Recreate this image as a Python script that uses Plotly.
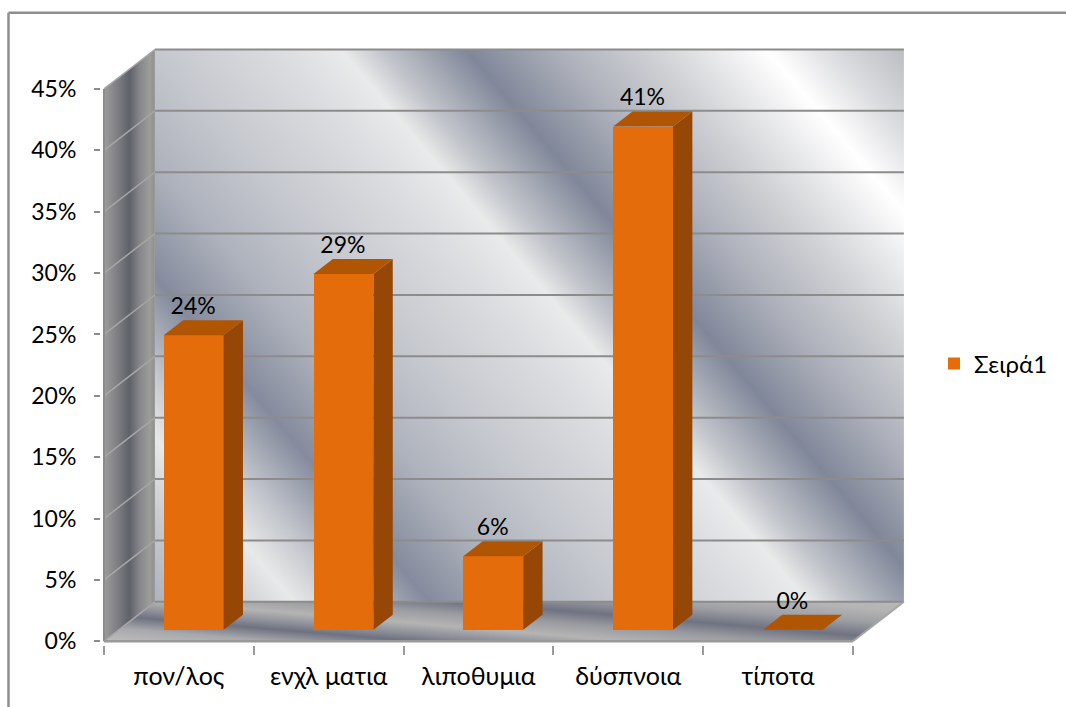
import base64
import plotly.graph_objects as go

# Chart content
categories = ["πον/λος", "ενχλ ματια", "λιποθυμια", "δύσπνοια", "τίποτα"]
values = [24, 29, 6, 41, 0]
percent_ticks = [0, 5, 10, 15, 20, 25, 30, 35, 40, 45]
series_name = "Σειρά1"

# Oblique projection of the 3-D box, expressed in axis units
DEPTH_X = 0.34      # category units across the full depth
DEPTH_Y = 3.217     # percent units across the full depth
BAR_NEAR = 0.29     # depth fraction of the bar's front face
BAR_FAR = 0.67      # depth fraction of the bar's back face
BAR_WIDTH = 0.40
X_RANGE = [-0.52, 4.854]
Y_RANGE = [-0.30, 48.50]
M = dict(l=101, r=160, t=46, b=62)
W, H = 1066, 707
PLOT_W, PLOT_H = W - M["l"] - M["r"], H - M["t"] - M["b"]
FONT = "Lato, 'Open Sans', sans-serif"

FRONT = "#E46C0A"
SIDE = "#964705"
TOP = "#B05504"
LINE = "#8C8C8C"


def px_x(c):
    return M["l"] + (c - X_RANGE[0]) / (X_RANGE[1] - X_RANGE[0]) * PLOT_W


def px_y(v):
    return M["t"] + (Y_RANGE[1] - v) / (Y_RANGE[1] - Y_RANGE[0]) * PLOT_H


def project(c, v, d):
    return c + d * DEPTH_X, v + d * DEPTH_Y


def pts(corners):
    return " ".join(f"{px_x(project(c, v, d)[0]):.1f},{px_y(project(c, v, d)[1]):.1f}"
                    for c, v, d in corners)


def stops(rows):
    return "".join(f'<stop offset="{o:.4f}" stop-color="{c}"/>' for o, c in rows)


# Brushed-metal fills for the back wall, the side wall and the floor.
# Wall bands run along lines of constant u = SLOPE * x - y (page pixels).
SLOPE = 1.18
U0, U1 = -419.0, 1015.0
wall_bands = [(-419, "#aeb2bd"), (-330, "#c9cbd0"), (-255, "#e8e9e9"), (-190, "#c4c7cd"),
              (-95, "#858b9d"), (20, "#aeb2bc"), (130, "#c4c7cd"), (280, "#dcdde0"),
              (352, "#e9eaea"), (400, "#c2c5cb"), (500, "#808799"), (610, "#aeb1bb"),
              (720, "#d0d2d5"), (855, "#ffffff"), (930, "#dcdde0"), (1015, "#bcbec3")]
wall_stops = stops([((u - U0) / (U1 - U0), c) for u, c in wall_bands])
k = (U1 - U0) / (SLOPE ** 2 + 1)
x0 = U0 / SLOPE
wall_vec = f'x1="{x0:.1f}" y1="0" x2="{x0 + k * SLOPE:.1f}" y2="{-k:.1f}"'

side_stops = stops([(0, "#9c9c9c"), (0.28, "#7c7d82"), (0.50, "#5e6169"), (0.70, "#85868a"),
                    (0.90, "#9d9d9a"), (1, "#8e8e8e")])

# Floor bands run along lines of constant w = y - TILT * x
TILT = 0.085
W0, W1 = 525.0, 632.0
floor_bands = [(525, "#b8b8b8"), (535, "#b4b4b4"), (548, "#9fa0a5"), (563, "#6f7381"),
               (575, "#9a9ba0"), (588, "#b4b4b4"), (598, "#8f919a"), (606, "#6e7280"),
               (618, "#a8a9ad"), (632, "#bdbdbd")]
floor_stops = stops([((w - W0) / (W1 - W0), c) for w, c in floor_bands])
fk = (W1 - W0) / (1 + TILT ** 2)
fx0, fy0 = 500.0, W0 + TILT * 500.0
floor_vec = f'x1="{fx0:.1f}" y1="{fy0:.1f}" x2="{fx0 - fk * TILT:.1f}" y2="{fy0 + fk:.1f}"'

svg = f"""<svg xmlns="http://www.w3.org/2000/svg" width="{W}" height="{H}" viewBox="0 0 {W} {H}">
<defs>
<linearGradient id="wall" gradientUnits="userSpaceOnUse" {wall_vec}>{wall_stops}</linearGradient>
<linearGradient id="side" gradientUnits="userSpaceOnUse" x1="{px_x(-0.5):.1f}" y1="0" x2="{px_x(-0.5 + DEPTH_X):.1f}" y2="0">{side_stops}</linearGradient>
<linearGradient id="floor" gradientUnits="userSpaceOnUse" {floor_vec}>{floor_stops}</linearGradient>
</defs>
<polygon fill="url(#wall)" points="{pts([(-0.5, 0, 1), (4.5, 0, 1), (4.5, 45, 1), (-0.5, 45, 1)])}"/>
<polygon fill="url(#side)" points="{pts([(-0.5, 0, 0), (-0.5, 0, 1), (-0.5, 45, 1), (-0.5, 45, 0)])}"/>
<polygon fill="url(#floor)" points="{pts([(-0.5, 0, 0), (4.5, 0, 0), (4.5, 0, 1), (-0.5, 0, 1)])}"/>
</svg>"""
backdrop = "data:image/svg+xml;base64," + base64.b64encode(svg.encode()).decode()

centers = list(range(len(categories)))
front_offset = BAR_NEAR * DEPTH_X
front_base = BAR_NEAR * DEPTH_Y

fig = go.Figure()

# Front faces of the columns
fig.add_trace(go.Bar(
    x=[c + front_offset for c in centers],
    y=values,
    base=[front_base] * len(values),
    width=BAR_WIDTH,
    marker=dict(color=FRONT, line=dict(width=0)),
    name=series_name,
    showlegend=True,
    hoverinfo="skip",
))


# Side and top faces of the columns, projected from the same values
def add_face(corners, color):
    xs, ys = zip(*[project(c, v, d) for c, v, d in corners])
    fig.add_trace(go.Scatter(
        x=xs, y=ys, mode="lines", fill="toself", fillcolor=color,
        line=dict(width=0), showlegend=False, hoverinfo="skip",
    ))


for c, v in zip(centers, values):
    left, right = c - BAR_WIDTH / 2, c + BAR_WIDTH / 2
    if v > 0:
        add_face([(right, 0, BAR_NEAR), (right, 0, BAR_FAR), (right, v, BAR_FAR), (right, v, BAR_NEAR)], SIDE)
    add_face([(left, v, BAR_NEAR), (right, v, BAR_NEAR), (right, v, BAR_FAR), (left, v, BAR_FAR)], TOP)

# Value labels above each column
LABEL_LIFT = 2.2
fig.add_trace(go.Scatter(
    x=[c + 0.095 for c in centers],
    y=[v + front_base + LABEL_LIFT for v in values],
    text=[f"{v}%" for v in values],
    mode="text",
    textposition="middle center",
    textfont=dict(family=FONT, size=23, color="#000000"),
    showlegend=False,
    hoverinfo="skip",
    cliponaxis=False,
))


def seg(a, b, color=LINE, width=2.0):
    (xa, ya), (xb, yb) = project(*a), project(*b)
    return dict(type="line", xref="x", yref="y", x0=xa, y0=ya, x1=xb, y1=yb,
                layer="below", line=dict(color=color, width=width))


shapes = []
for t in percent_ticks:
    shapes.append(seg((-0.5, t, 1), (4.5, t, 1)))          # back wall gridline
    shapes.append(seg((-0.5, t, 0), (-0.5, t, 1), "#A6A6A6", 1.5))  # side wall gridline
shapes.append(seg((-0.5, 0, 0), (-0.5, 45, 0)))            # value axis edge
shapes.append(seg((-0.5, 0, 0), (4.5, 0, 0), "#9A9A9A", 2.5))   # category axis edge
shapes.append(seg((4.5, 0, 0), (4.5, 0, 1), "#A6A6A6", 2))      # floor right edge

# Chart-area frame, open on the right and at the bottom
frame_x = (8.5 - M["l"]) / PLOT_W
frame_y = (H - M["b"] - 12.7) / PLOT_H
shapes.append(dict(type="line", xref="paper", yref="paper", layer="above",
                   x0=frame_x, x1=(W - M["l"]) / PLOT_W, y0=frame_y, y1=frame_y,
                   line=dict(color="#8E8E8E", width=2.5)))
shapes.append(dict(type="line", xref="paper", yref="paper", layer="above",
                   x0=frame_x, x1=frame_x, y0=frame_y, y1=-M["b"] / PLOT_H,
                   line=dict(color="#8E8E8E", width=2.5)))

fig.update_layout(
    width=W, height=H, margin=M,
    paper_bgcolor="white", plot_bgcolor="rgba(0,0,0,0)",
    bargap=0,
    shapes=shapes,
    images=[dict(source=backdrop, xref="paper", yref="paper",
                 x=-M["l"] / PLOT_W, y=1 + M["t"] / PLOT_H,
                 sizex=W / PLOT_W, sizey=H / PLOT_H,
                 xanchor="left", yanchor="top", sizing="stretch", layer="below")],
    legend=dict(x=(934 - M["l"]) / PLOT_W, y=(H - M["b"] - 364) / PLOT_H,
                xanchor="left", yanchor="middle", bgcolor="rgba(0,0,0,0)", borderwidth=0,
                font=dict(family=FONT, size=24, color="#000000"), itemwidth=30,
                entrywidth=70, entrywidthmode="pixels"),
    xaxis=dict(
        range=X_RANGE, tickmode="array", tickvals=centers, ticktext=categories,
        showgrid=False, zeroline=False, showline=False,
        ticks="outside", ticklen=9, tickcolor="rgba(0,0,0,0)",
        tickfont=dict(family=FONT, size=25, color="#000000"),
        minor=dict(tickmode="array", tickvals=[c - 0.5 for c in centers] + [4.5],
                   ticks="outside", ticklen=9, tickwidth=2, tickcolor="#9A9A9A", showgrid=False),
    ),
    yaxis=dict(
        range=Y_RANGE, tickmode="array", tickvals=percent_ticks,
        ticktext=[f"{t}%" for t in percent_ticks],
        showgrid=False, zeroline=False, showline=False,
        ticks="outside", ticklen=6, tickwidth=2, tickcolor="#8C8C8C", ticklabelstandoff=13,
        tickfont=dict(family=FONT, size=23, color="#000000"),
    ),
)

fig.write_html("out.html")
